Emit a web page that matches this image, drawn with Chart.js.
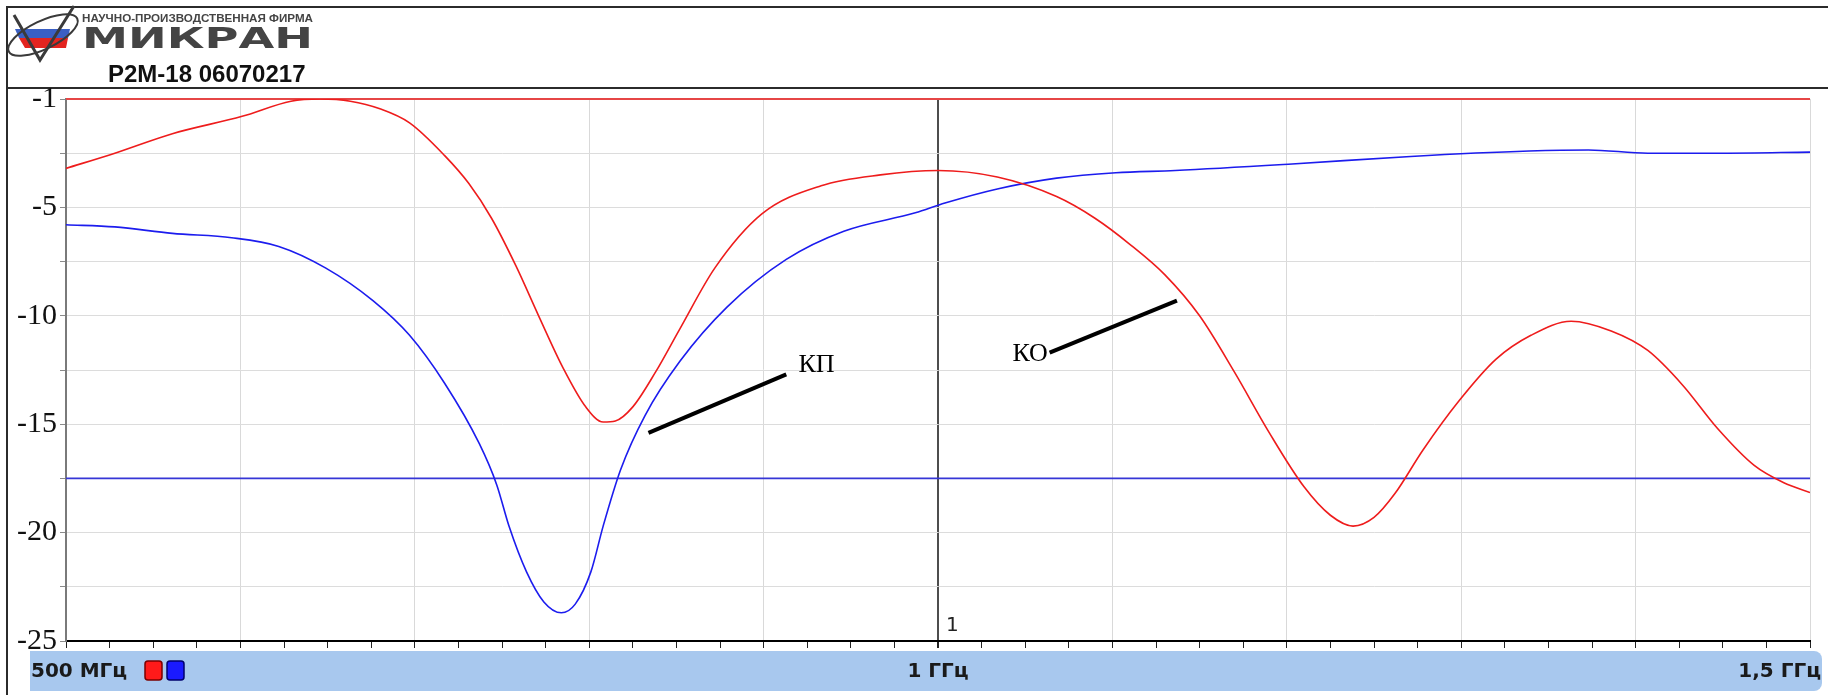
<!DOCTYPE html>
<html>
<head>
<meta charset="utf-8">
<script src="https://cdn.jsdelivr.net/npm/chart.js@4.4.0/dist/chart.umd.min.js"></script>
<style>
  html, body { margin: 0; padding: 0; background: #fff; }
  #wrap { position: relative; width: 1828px; height: 695px; }
</style>
</head>
<body>
<div id="wrap"><canvas id="scan" width="1828" height="695"></canvas></div>
<script>
// --- DATA ---
// КО (reflection), red trace
const koFreq = [500, 528, 561, 601, 629, 646, 663, 680, 697, 717, 731, 744, 758, 771, 785, 798, 808, 815, 825, 838, 852, 872, 899, 933, 967, 1000, 1034, 1068, 1090, 1110, 1130, 1150, 1170, 1190, 1210, 1225, 1238, 1250, 1262, 1278, 1299, 1320, 1340, 1363, 1386, 1407, 1427, 1447, 1468, 1485, 1500];
const koVals = [-3.2, -2.5, -1.6, -0.8, -0.1, 0, -0.1, -0.45, -1.1, -2.6, -3.9, -5.5, -7.7, -10.0, -12.4, -14.2, -14.9, -14.85, -14.2, -12.6, -10.6, -7.8, -5.3, -4.0, -3.5, -3.3, -3.6, -4.5, -5.5, -6.7, -8.1, -10.0, -12.6, -15.4, -17.9, -19.2, -19.7, -19.3, -18.2, -16.2, -13.9, -12.0, -10.9, -10.25, -10.7, -11.6, -13.2, -15.2, -16.9, -17.7, -18.15];
// КП (transmission), blue trace
const kpFreq = [500, 528, 561, 595, 622, 649, 676, 697, 717, 737, 747, 754, 764, 774, 784, 792, 801, 808, 818, 832, 852, 879, 913, 946, 987, 1004, 1034, 1068, 1102, 1136, 1203, 1271, 1339, 1373, 1407, 1450, 1500];
const kpVals = [-5.8, -5.9, -6.2, -6.4, -6.8, -7.8, -9.3, -10.9, -13.1, -15.9, -17.8, -19.7, -21.8, -23.2, -23.7, -23.3, -21.8, -19.7, -17.1, -14.6, -12.1, -9.6, -7.4, -6.1, -5.25, -4.8, -4.15, -3.65, -3.4, -3.3, -3.0, -2.65, -2.4, -2.35, -2.5, -2.5, -2.45];
// limit lines
const limitFreq = [500, 1500];
const koLimit = [0, 0];
const kpLimit = [-17.5, -17.5];
// axis labels
const yTickValues = [0, -5, -10, -15, -20, -25];
const yTickLabels = ['-1', '-5', '-10', '-15', '-20', '-25'];
const xBandValues = [500, 1000, 1500];
const xBandLabels = ['500 МГц', '1 ГГц', '1,5 ГГц'];
const markerFreq = 1000;
const markerLabel = '1';

// --- ANNOTATIONS (data units) ---
const notes = [
  { text: 'КП', from: [834, -15.4], to: [913, -12.7], at: [920, -12.3], align: 'left' },
  { text: 'КО', from: [1064, -11.7], to: [1137, -9.3], at: [1063, -11.75], align: 'right' }
];

const pts = (xs, ys) => xs.map((x, i) => ({ x: x, y: ys[i] }));

// --- FRAME / HEADER / FOOTER ---
const framePlugin = {
  id: 'frame',
  beforeDraw(chart) {
    const c = chart.ctx;
    c.save();
    c.fillStyle = '#fff';
    c.fillRect(0, 0, chart.width, chart.height);

    // outer border + header separator
    c.strokeStyle = '#2b2b2b';
    c.lineWidth = 2;
    c.beginPath();
    c.moveTo(1828, 7); c.lineTo(7, 7); c.lineTo(7, 695);
    c.moveTo(7, 88); c.lineTo(1828, 88);
    c.stroke();

    // logo mark
    c.fillStyle = '#3a5fc4';
    c.beginPath(); c.moveTo(15, 29); c.lineTo(70, 29); c.lineTo(68, 38); c.lineTo(19, 38); c.closePath(); c.fill();
    c.fillStyle = '#e3241f';
    c.beginPath(); c.moveTo(19, 38); c.lineTo(68, 38); c.lineTo(66, 48); c.lineTo(25, 48); c.closePath(); c.fill();
    c.strokeStyle = '#3a3a3a';
    c.lineWidth = 3;
    c.beginPath(); c.moveTo(14, 15); c.lineTo(40, 60); c.lineTo(74, 6); c.stroke();
    c.lineWidth = 2;
    c.beginPath(); c.ellipse(43, 35, 38, 14, -0.45, 0, Math.PI * 2); c.stroke();

    // logo text
    c.fillStyle = '#444';
    c.textBaseline = 'alphabetic';
    c.font = 'bold 11px "Liberation Sans"';
    let w = c.measureText('НАУЧНО-ПРОИЗВОДСТВЕННАЯ ФИРМА').width;
    c.save(); c.translate(82, 22); c.scale(231 / w, 1);
    c.fillText('НАУЧНО-ПРОИЗВОДСТВЕННАЯ ФИРМА', 0, 0); c.restore();
    c.font = 'bold 28px "DejaVu Sans"';
    w = c.measureText('МИКРАН').width;
    c.save(); c.translate(82, 48); c.scale(231 / w, 1.0);
    c.fillText('МИКРАН', 0, 0); c.restore();

    c.fillStyle = '#111';
    c.font = 'bold 24px "Liberation Sans"';
    c.fillText('Р2М-18 06070217', 108, 82);

    // bottom band
    c.fillStyle = '#a8c8ee';
    c.beginPath();
    c.moveTo(30, 651); c.lineTo(1814, 651);
    c.arcTo(1822, 651, 1822, 659, 8);
    c.lineTo(1822, 683);
    c.arcTo(1822, 691, 1814, 691, 8);
    c.lineTo(30, 691); c.closePath(); c.fill();

    const xs = chart.scales.x;
    c.fillStyle = '#1a1a1a';
    c.font = 'bold 20px "DejaVu Sans"';
    c.textBaseline = 'middle';
    xBandLabels.forEach((t, i) => {
      if (i === 0) { c.textAlign = 'left'; c.fillText(t, 31, 672); }
      else if (i === xBandLabels.length - 1) { c.textAlign = 'right'; c.fillText(t, 1821, 672); }
      else { c.textAlign = 'center'; c.fillText(t, xs.getPixelForValue(xBandValues[i]), 672); }
    });
    // trace swatches
    [['#ff1a1a', '#7a0000', 145], ['#1a1aff', '#00006e', 167]].forEach(s => {
      c.fillStyle = s[0]; c.strokeStyle = s[1]; c.lineWidth = 1.5;
      c.beginPath(); c.roundRect(s[2], 661, 17, 19, 3); c.fill(); c.stroke();
    });
    c.restore();
  },
  afterDraw(chart) {
    const c = chart.ctx, xs = chart.scales.x, ys = chart.scales.y;
    c.save();
    // marker label
    c.fillStyle = '#222';
    c.font = '20px "DejaVu Sans"';
    c.textAlign = 'left';
    c.textBaseline = 'middle';
    c.fillText(markerLabel, xs.getPixelForValue(markerFreq) + 8, chart.chartArea.bottom - 15);
    // pointer notes
    c.strokeStyle = '#000';
    c.lineWidth = 4;
    c.fillStyle = '#000';
    c.font = '26px "Liberation Serif"';
    notes.forEach(n => {
      c.beginPath();
      c.moveTo(xs.getPixelForValue(n.from[0]), ys.getPixelForValue(n.from[1]));
      c.lineTo(xs.getPixelForValue(n.to[0]), ys.getPixelForValue(n.to[1]));
      c.stroke();
      c.textAlign = n.align;
      c.fillText(n.text, xs.getPixelForValue(n.at[0]), ys.getPixelForValue(n.at[1]));
    });
    c.restore();
  }
};

function renderChart() {
  const ctx = document.getElementById('scan').getContext('2d');
  new Chart(ctx, {
    type: 'line',
    data: {
      datasets: [
        { label: 'КО', data: pts(koFreq, koVals), borderColor: '#ee1c1c', borderWidth: 1.6, pointRadius: 0, cubicInterpolationMode: 'monotone' },
        { label: 'КП', data: pts(kpFreq, kpVals), borderColor: '#1c1cee', borderWidth: 1.6, pointRadius: 0, cubicInterpolationMode: 'monotone' },
        { label: 'КО limit', data: pts(limitFreq, koLimit), borderColor: '#e64646', borderWidth: 2, pointRadius: 0, clip: 4 },
        { label: 'КП limit', data: pts(limitFreq, kpLimit), borderColor: '#3636d6', borderWidth: 1.6, pointRadius: 0 }
      ]
    },
    options: {
      responsive: false,
      animation: false,
      devicePixelRatio: 1,
      layout: { padding: { top: 99, left: 0, right: 18, bottom: 46 } },
      plugins: { legend: { display: false }, tooltip: { enabled: false } },
      scales: {
        x: {
          type: 'linear', min: 500, max: 1500,
          ticks: { stepSize: 25, display: false },
          grid: {
            color: g => g.tick && g.tick.value === markerFreq ? '#4d4d4d' : (g.tick && g.tick.value % 100 === 0 ? '#d9d9d9' : 'rgba(0,0,0,0)'),
            lineWidth: g => g.tick && g.tick.value === markerFreq ? 2 : 1,
            tickColor: '#222', tickLength: 7
          },
          border: { color: '#000', width: 2 },
          afterFit: s => { s.height = 8; }
        },
        y: {
          min: -25, max: 0,
          ticks: {
            stepSize: 2.5, autoSkip: false, padding: 3, color: '#111',
            font: { family: '"Liberation Serif"', size: 30 },
            callback: v => { const i = yTickValues.indexOf(v); return i >= 0 ? yTickLabels[i] : ''; }
          },
          grid: { color: '#dcdcdc', tickColor: '#8a8a8a', tickLength: 6 },
          border: { color: '#7a7a7a', width: 2 },
          afterFit: s => { s.width = 66; }
        }
      }
    },
    plugins: [framePlugin]
  });
}

window.onload = renderChart;
</script>
</body>
</html>
